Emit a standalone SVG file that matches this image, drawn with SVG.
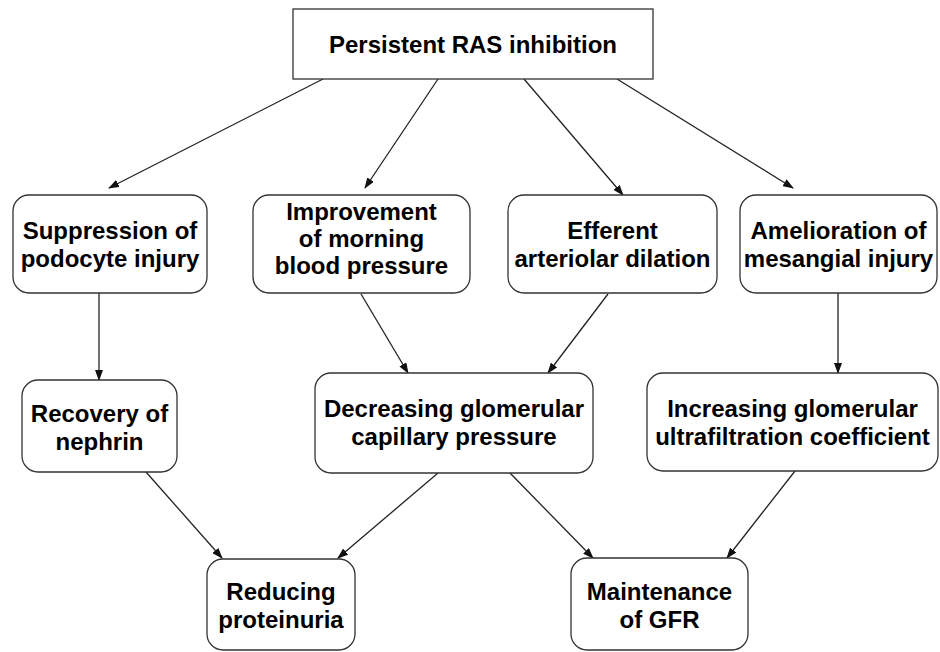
<svg xmlns="http://www.w3.org/2000/svg" width="940" height="652" viewBox="0 0 940 652">
<defs>
<marker id="ah" markerUnits="userSpaceOnUse" markerWidth="11" markerHeight="8" refX="10" refY="4" orient="auto">
<path d="M0,0 L11,4 L0,8 z" fill="#111"/>
</marker>
<style>
.box{fill:#fff;stroke:#333;stroke-width:1.3}
.t{font-family:"Liberation Sans",Arial,sans-serif;font-weight:bold;font-size:24px;fill:#000;text-anchor:middle}
.c{stroke:#222;stroke-width:1.3;fill:none;marker-end:url(#ah)}
</style>
</defs>
<rect width="940" height="652" fill="#fff"/>
<g id="connectors">
<line class="c" x1="323" y1="79" x2="109" y2="188"/>
<line class="c" x1="438" y1="79" x2="365" y2="188"/>
<line class="c" x1="524" y1="79" x2="623" y2="195"/>
<line class="c" x1="617" y1="79" x2="793" y2="188"/>
<line class="c" x1="99" y1="293" x2="99" y2="380"/>
<line class="c" x1="361" y1="294" x2="408" y2="373"/>
<line class="c" x1="608" y1="294" x2="548" y2="373"/>
<line class="c" x1="838" y1="293" x2="838" y2="373"/>
<line class="c" x1="146" y1="472" x2="222" y2="558"/>
<line class="c" x1="438" y1="473" x2="338" y2="558"/>
<line class="c" x1="510" y1="473" x2="593" y2="558"/>
<line class="c" x1="795" y1="471" x2="727" y2="558"/>
</g>
<g id="n-top">
<rect class="box" x="293" y="9" width="360" height="70"/>
<text class="t" x="473" y="53">Persistent RAS inhibition</text>
</g>
<g id="n-podocyte">
<rect class="box" x="13" y="195" width="194" height="98" rx="16"/>
<text class="t" x="110" y="239">Suppression of</text>
<text class="t" x="110" y="267">podocyte injury</text>
</g>
<g id="n-morning">
<rect class="box" x="253" y="195" width="217" height="98" rx="16"/>
<text class="t" x="361.5" y="220">Improvement</text>
<text class="t" x="361.5" y="247">of morning</text>
<text class="t" x="361.5" y="274">blood pressure</text>
</g>
<g id="n-efferent">
<rect class="box" x="508" y="195" width="209" height="98" rx="16"/>
<text class="t" x="612.5" y="239">Efferent</text>
<text class="t" x="612.5" y="267">arteriolar dilation</text>
</g>
<g id="n-mesangial">
<rect class="box" x="740" y="195" width="197" height="98" rx="16"/>
<text class="t" x="838.5" y="239">Amelioration of</text>
<text class="t" x="838.5" y="267">mesangial injury</text>
</g>
<g id="n-nephrin">
<rect class="box" x="22" y="380" width="155" height="92" rx="16"/>
<text class="t" x="99.5" y="422">Recovery of</text>
<text class="t" x="99.5" y="450">nephrin</text>
</g>
<g id="n-capillary">
<rect class="box" x="315" y="373" width="278" height="100" rx="16"/>
<text class="t" x="454" y="417">Decreasing glomerular</text>
<text class="t" x="454" y="445">capillary pressure</text>
</g>
<g id="n-ultra">
<rect class="box" x="647" y="373" width="291" height="98" rx="16"/>
<text class="t" x="792.5" y="417">Increasing glomerular</text>
<text class="t" x="792.5" y="445">ultrafiltration coefficient</text>
</g>
<g id="n-proteinuria">
<rect class="box" x="207" y="559" width="148" height="91" rx="16"/>
<text class="t" x="281" y="600">Reducing</text>
<text class="t" x="281" y="628">proteinuria</text>
</g>
<g id="n-gfr">
<rect class="box" x="571" y="558" width="177" height="92" rx="16"/>
<text class="t" x="659.5" y="600">Maintenance</text>
<text class="t" x="659.5" y="628">of GFR</text>
</g>
</svg>
